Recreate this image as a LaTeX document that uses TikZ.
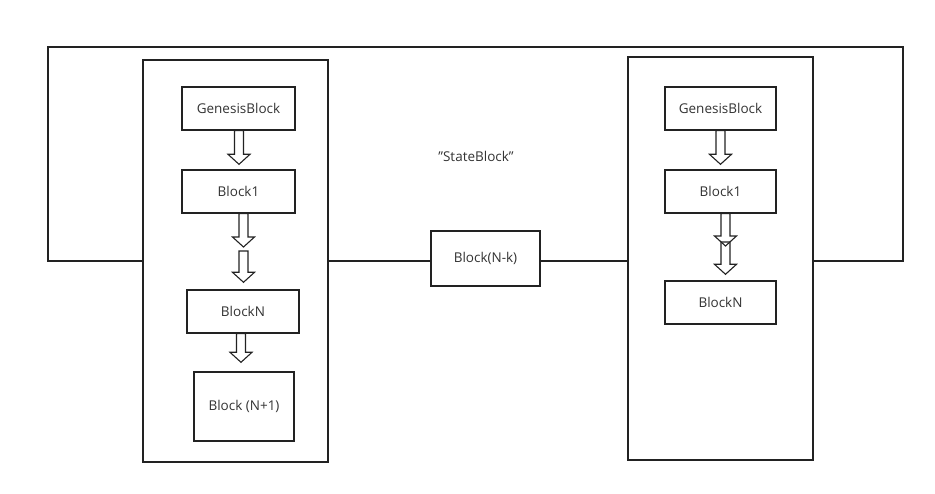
\documentclass[tikz,border=0pt]{standalone}
\usepackage{fontspec}
\setmainfont{Open Sans}
\usetikzlibrary{calc}
\definecolor{ink}{HTML}{222222}
\definecolor{txt}{HTML}{333333}
\tikzset{
  box/.style={draw=ink, line width=1.4pt, fill=white, text=txt, inner sep=0pt,
    font=\fontsize{13.5}{15}\selectfont},
  container/.style={draw=ink, line width=1.4pt, fill=white, inner sep=0pt},
  wire/.style={draw=ink, line width=1.4pt},
  % hollow block arrow pointing downwards from the start point to the target
  hollowarrow/.style={draw=ink, line width=1.1pt, line join=miter,
    to path={let \p1=(\tikztostart), \p2=(\tikztotarget) in
      (\x1-4.5pt,\y1) -- (\x1-4.5pt,\y2+10pt) -- (\x1-11pt,\y2+10pt) -- (\x1,\y2)
      -- (\x1+11pt,\y2+10pt) -- (\x1+4.5pt,\y2+10pt) -- (\x1+4.5pt,\y1) -- cycle}},
}
\begin{document}
\begin{tikzpicture}[x=1pt, y=-1pt]
  \useasboundingbox (0,0) rectangle (935,494);

  % outer loop joining the two chains
  \coordinate (ltop) at (48,47);
  \coordinate (rtop) at (903,47);

  % the two chain containers
  \node[container, minimum width=185pt, minimum height=402pt] (lc) at (235.5,261) {};
  \node[container, minimum width=185pt, minimum height=403pt] (rc) at (720.5,258.5) {};

  \draw[wire] (lc.west) -| (ltop) -- (rtop) |- (rc.east |- lc.west);

  % the shared state block
  \node[box, minimum width=109pt, minimum height=55pt] (nk) at (485.5,258.5) {Block(N-k)};
  \draw[wire] (lc.east) -- (lc.east -| nk.west);
  \draw[wire] (nk.east |- lc.east) -- (rc.west |- lc.east);
  \node[text=txt, font=\fontsize{13.5}{15}\selectfont] (sb) at (476,156) {\symbol{34}StateBlock\symbol{34}};

  % left chain
  \node[box, minimum width=113pt, minimum height=43pt] (g1) at (238.5,108.5) {GenesisBlock};
  \node[box, minimum width=113pt, minimum height=43pt] (b1) at (238.5,191.5) {Block1};
  \node[box, minimum width=112pt, minimum height=43pt] (bn) at (243,311.5) {BlockN};
  \node[box, minimum width=100pt, minimum height=69pt] (bn1) at (244,406.5) {Block (N+1)};
  \coordinate (m1) at (243.5,247);
  \coordinate (m2) at (243.5,251);

  \draw[hollowarrow] ([xshift=0.5pt]g1.south) to ([yshift=5pt]b1.north);
  \draw[hollowarrow] ([xshift=5pt]b1.south) to (m1);
  \draw[hollowarrow] (m2) to ([yshift=7pt]bn.north);
  \draw[hollowarrow] ([xshift=-2pt]bn.south) to ([yshift=9pt]bn1.north);

  % right chain
  \node[box, minimum width=111pt, minimum height=43pt] (g2) at (720.5,108.5) {GenesisBlock};
  \node[box, minimum width=111pt, minimum height=43pt] (b2) at (720.5,191.5) {Block1};
  \node[box, minimum width=111pt, minimum height=43pt] (bn2) at (720.5,302.5) {BlockN};
  \coordinate (m3) at (725.5,246);
  \coordinate (m4) at (725.5,242);

  \draw[hollowarrow] (g2.south) to ([yshift=5pt]b2.north);
  \draw[hollowarrow] ([xshift=5pt]b2.south) to (m3);
  \draw[hollowarrow] (m4) to ([yshift=6pt]bn2.north);
\end{tikzpicture}
\end{document}
